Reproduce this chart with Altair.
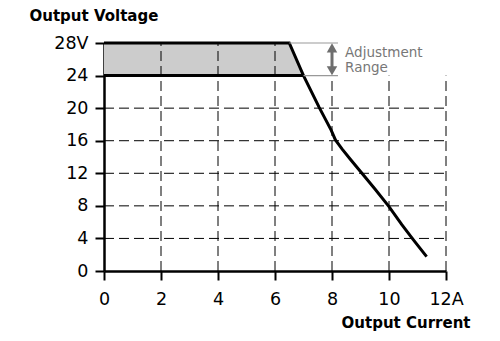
import altair as alt
import pandas as pd

# ---- data ----
current = [0, 6.5, 7.0, 7.55, 7.97, 8.12, 8.35, 8.65, 9.05, 9.5, 10.0, 10.45, 10.85, 11.32]
voltage = [28, 28, 24, 20.1, 17.3, 16.1, 15.0, 13.7, 12.0, 10.1, 7.9, 5.7, 3.85, 1.76]

band_current = [0, 6.5, 7.0]
band_top = [28, 28, 24]
band_bottom = [24, 24, 24]

x_ticks = [0, 2, 4, 6, 8, 10, 12]
y_ticks = [0, 4, 8, 12, 16, 20, 24, 28]
grid_x = [2, 4, 6, 8, 10, 12]
grid_x_top = [28, 28, 28, 24, 24, 24]
grid_y = [4, 8, 12, 16, 20]

bracket_v = [28, 24]
bracket_start = [6.5, 7.0]
note_lines = ["Adjustment", "Range"]
note_v = [26.3, 24.5]

curve_df = pd.DataFrame({"I": current, "V": voltage})
band_df = pd.DataFrame({"I": band_current, "top": band_top, "bottom": band_bottom})
gx_df = pd.DataFrame({"I": grid_x, "top": grid_x_top})
gy_df = pd.DataFrame({"V": grid_y})
br_df = pd.DataFrame({"V": bracket_v, "I": bracket_start})
note_df = pd.DataFrame({"t": note_lines, "V": note_v})

FONT = "DejaVu Sans"
xs = alt.Scale(domain=[0, 12], nice=False, zero=False)
ys = alt.Scale(domain=[0, 28], nice=False, zero=False)

xaxis = alt.Axis(
    values=x_ticks, tickCount=7,
    labelExpr="datum.value == 12 ? '12A' : datum.label",
    title="Output Current", titleX=366, titleY=56, titleAlign="right",
    titleBaseline="alphabetic", titleFont=FONT, titleFontWeight="bold",
    titleFontSize=15, titleColor="black",
    labelFont=FONT, labelFontSize=17.5, labelColor="black", labelPadding=10,
    labelFlush=False, labelOverlap=False,
    tickSize=9, tickWidth=2, tickColor="black",
    domainColor="black", domainWidth=2.5, grid=False,
)
yaxis = alt.Axis(
    values=y_ticks, tickCount=8,
    labelExpr="datum.value == 28 ? '28V' : datum.label",
    title="Output Voltage", titleAngle=0, titleX=-75, titleY=-23,
    titleAlign="left", titleBaseline="alphabetic", titleFont=FONT,
    titleFontWeight="bold", titleFontSize=15, titleColor="black",
    labelFont=FONT, labelFontSize=17.5, labelColor="black", labelPadding=7,
    labelFlush=False, labelOverlap=False,
    tickSize=9, tickWidth=2, tickColor="black",
    domainColor="black", domainWidth=2.5, grid=False,
)


def X(field):
    return alt.X(field, type="quantitative", scale=xs, axis=xaxis)


def Y(field):
    return alt.Y(field, type="quantitative", scale=ys, axis=yaxis)


area = alt.Chart(band_df).mark_area(color="#cccccc", opacity=1).encode(
    x=X("I"), y=Y("top"), y2="bottom:Q",
)

dash = [10, 5]
vgrid = alt.Chart(gx_df).mark_rule(color="black", strokeWidth=1, strokeDash=dash).encode(
    x=X("I"), y=Y("z"), y2="top:Q"
).transform_calculate(z="0")

hgrid = alt.Chart(gy_df).mark_rule(color="black", strokeWidth=1, strokeDash=dash).encode(
    y=Y("V"), x=X("a"), x2="b:Q"
).transform_calculate(a="0", b="12")

band_line = alt.Chart(band_df).mark_line(color="black", strokeWidth=3).encode(
    x=X("I"), y=Y("bottom")
)

curve = alt.Chart(curve_df).mark_line(color="black", strokeWidth=3, strokeJoin="miter").encode(
    x=X("I"), y=Y("V"), order="I:Q"
)

brackets = alt.Chart(br_df).mark_rule(color="#999999", strokeWidth=1.2).encode(
    x=X("I"), x2="e:Q", y=Y("V")
).transform_calculate(e="8.21")

one = pd.DataFrame({"I": [8]})
shaft = alt.Chart(one).mark_rule(color="#6e6e6e", strokeWidth=3).encode(
    x=X("I"), y=Y("s1"), y2="s2:Q"
).transform_calculate(s1="27.0", s2="25.0")
head_up = alt.Chart(one).mark_point(
    shape="triangle-up", filled=True, size=110, color="#6e6e6e", opacity=1
).encode(x=X("I"), y=Y("h")).transform_calculate(h="27.4")
head_dn = alt.Chart(one).mark_point(
    shape="triangle-down", filled=True, size=110, color="#6e6e6e", opacity=1
).encode(x=X("I"), y=Y("h")).transform_calculate(h="24.6")

notes = alt.Chart(note_df).mark_text(
    align="left", baseline="alphabetic", font=FONT, fontSize=13.5, color="#777777"
).encode(x=X("nx"), y=Y("V"), text="t:N").transform_calculate(nx="8.46")

chart = alt.layer(
    area, vgrid, hgrid, band_line, curve, brackets, shaft, head_up, head_dn, notes
).properties(
    width=342, height=228,
    autosize=alt.AutoSizeParams(type="none"),
    padding={"left": 104, "top": 43, "right": 54, "bottom": 70},
    background="white",
).configure_view(stroke=None).configure_axis(labelOverlap=False)

chart.save("out.html", embed_options={"renderer": "svg", "actions": False})
